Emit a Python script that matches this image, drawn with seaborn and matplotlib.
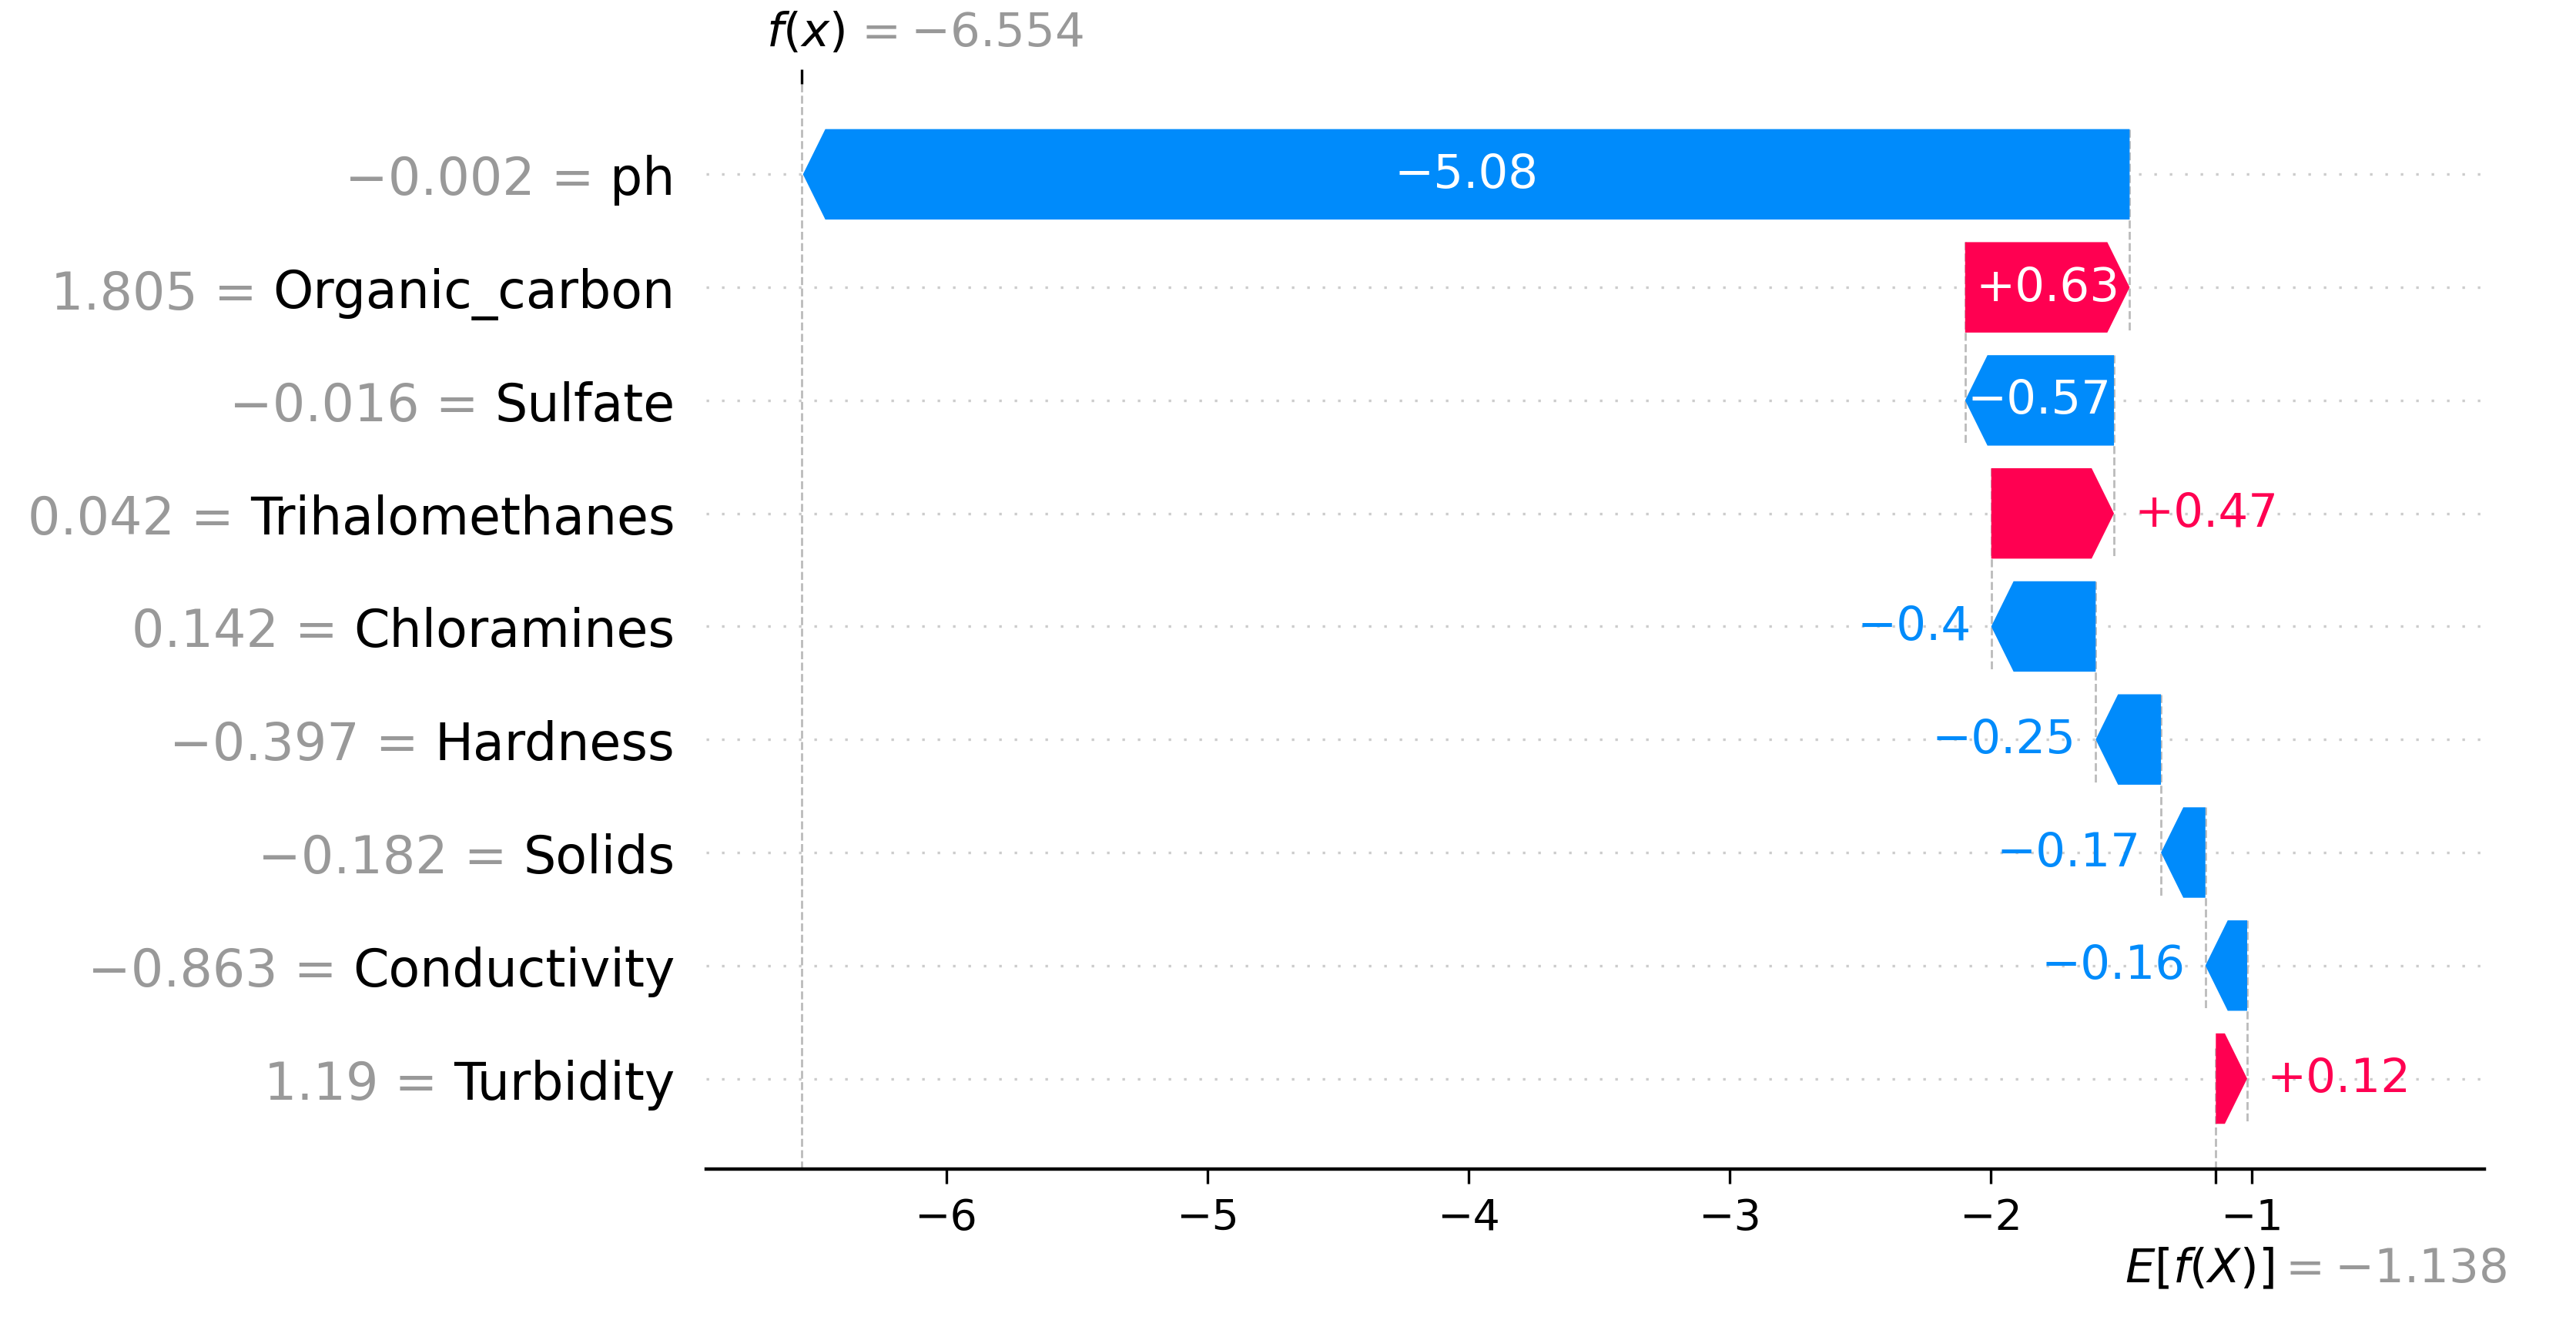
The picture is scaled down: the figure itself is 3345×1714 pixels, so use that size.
import numpy as np
import matplotlib.pyplot as plt
import seaborn as sns

features = ['ph', 'Organic_carbon', 'Sulfate', 'Trihalomethanes', 'Chloramines',
            'Hardness', 'Solids', 'Conductivity', 'Turbidity']
feature_values = [-0.002, 1.805, -0.016, 0.042, 0.142, -0.397, -0.182, -0.863, 1.19]
shap_values = [-5.08, 0.63, -0.57, 0.47, -0.4, -0.25, -0.17, -0.16, 0.12]
base_value = -1.138
fx_value = -6.554
x_ticks = [-6, -5, -4, -3, -2, -1]

RED = '#ff0051'
BLUE = '#008bfb'
GRAY = '#999999'


def fmt(v, f):
    s = f % v
    if '.' in s:
        s = s.rstrip('0').rstrip('.')
    return s.replace('-', '\u2212')


sns.set_theme(style='white')
plt.rcParams['font.family'] = ['DejaVu Sans']
plt.rcParams['text.color'] = 'black'
plt.rcParams['xtick.color'] = 'black'
plt.rcParams['ytick.color'] = 'black'

fig = plt.figure(figsize=(16.725, 8.575), dpi=200)
ax = fig.add_axes([0.274, 0.1143, 0.6904, 0.8216])

n = len(features)
rows = np.arange(n)
ax.set_xlim(-6.92, -0.11)
ax.set_ylim(n - 1 + 0.8, -0.8)

# cumulative positions, from the base value upward (bottom row first)
starts = np.zeros(n)
cur = base_value
for i in reversed(range(n)):
    starts[i] = cur
    cur += shap_values[i]

px_per_unit = ax.get_window_extent().width / (ax.get_xlim()[1] - ax.get_xlim()[0])
hl = 29 / px_per_unit
bar_h = 0.8

# dotted row guides
for i in rows:
    ax.axhline(i, color='#cccccc', lw=1.2, dashes=(1, 5), zorder=-1)

# connectors between bars
for i in range(n - 1):
    ax.plot([starts[i], starts[i]], [i - 0.4, i + 1.4], color='#bbbbbb',
            ls='--', lw=1.0, zorder=-1)
ax.axvline(base_value, 0, 1 / n, color='#bbbbbb', ls='--', lw=1.0, zorder=-1)
ax.axvline(fx_value, 0, 1, color='#bbbbbb', ls='--', lw=1.0, zorder=-1)

# y labels: feature names in black
ax.set_yticks(rows, features)
ax.tick_params(axis='y', length=0, pad=14.4, labelsize=24)

fig.canvas.draw()
renderer = fig.canvas.get_renderer()
off = 26 / px_per_unit

for i in rows:
    v = shap_values[i]
    x0 = starts[i]
    col = RED if v > 0 else BLUE
    d = np.sign(v)
    head = min(hl, abs(v))
    xb = x0 + d * (abs(v) - head)
    xt = x0 + v
    ax.fill([x0, xb, xt, xb, x0],
            [i - bar_h / 2, i - bar_h / 2, i, i + bar_h / 2, i + bar_h / 2],
            color=col, lw=0, zorder=2)
    lab = fmt(v, '%+0.2f')
    txt = ax.text(x0 + v / 2, i, lab, ha='center', va='center', color='white',
                  fontsize=22, zorder=3)
    if txt.get_window_extent(renderer).width > abs(v) * px_per_unit:
        txt.remove()
        if v > 0:
            ax.text(xt + off, i, lab, ha='left', va='center', color=col, fontsize=22)
        else:
            ax.text(xt - off, i, lab, ha='right', va='center', color=col, fontsize=22)

# gray "value =" in front of each feature name
for fv, tl in zip(feature_values, ax.get_yticklabels()):
    ax.annotate(f'{fmt(fv, "%0.3f")} =', xy=(0, 0), xycoords=tl,
                xytext=(-7.6, 0), textcoords='offset points',
                ha='right', va='bottom', fontsize=24, color=GRAY)

ax.set_xticks(x_ticks)
ax.set_xticks([base_value], minor=True)
ax.tick_params(axis='x', which='both', length=6.8, width=1.2, labelsize=20,
               pad=6, bottom=True)

sns.despine(ax=ax, left=True, top=True, right=True)
ax.spines['bottom'].set_linewidth(1.6)
ax.spines['bottom'].set_color('black')

# f(x) tick on top
ax_top = ax.twiny()
ax_top.set_xlim(ax.get_xlim())
ax_top.set_xticks([fx_value], [''])
ax_top.tick_params(axis='x', length=6.8, width=1.2, top=True, color='black')
for s in ax_top.spines.values():
    s.set_visible(False)

ax.annotate('$f(x)$', xy=(fx_value, 1), xycoords=('data', 'axes fraction'),
            xytext=(2, 24), textcoords='offset points', ha='center', va='center',
            fontsize=22, color='black')
ax.annotate('$ = ' + ('%0.3f' % fx_value) + '$', xy=(fx_value, 1),
            xycoords=('data', 'axes fraction'), xytext=(24, 24),
            textcoords='offset points', ha='left', va='center', fontsize=22, color=GRAY)

ax.annotate('$E[f(X)]$', xy=(base_value, 0), xycoords=('data', 'axes fraction'),
            xytext=(-7.6, -46.8), textcoords='offset points', ha='center', va='center',
            fontsize=22, color='black')
ax.annotate('$ = ' + ('%0.3f' % base_value) + '$', xy=(base_value, 0),
            xycoords=('data', 'axes fraction'), xytext=(28.5, -46.8),
            textcoords='offset points', ha='left', va='center', fontsize=22, color=GRAY)

fig.savefig('out.png', dpi=200)
